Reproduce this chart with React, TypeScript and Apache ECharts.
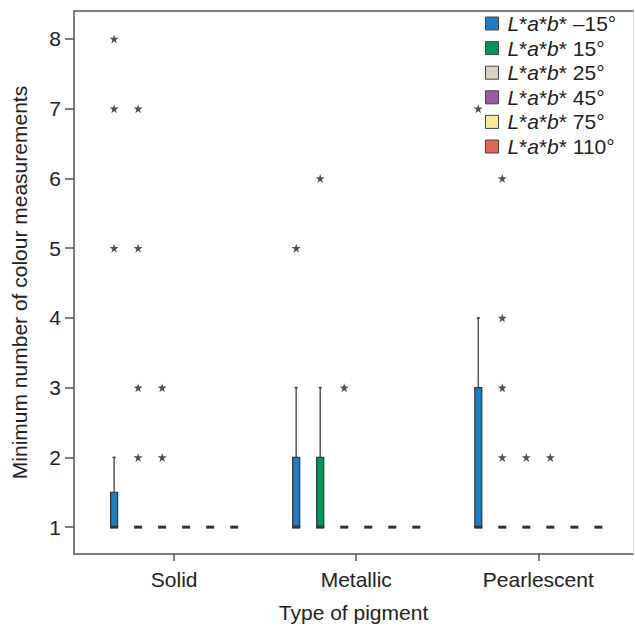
import React, { useEffect, useRef } from "react";
import * as echarts from "echarts";

// ---- data ----
const categories = ["Solid", "Metallic", "Pearlescent"];
const seriesNames = [
  "L*a*b* –15°",
  "L*a*b* 15°",
  "L*a*b* 25°",
  "L*a*b* 45°",
  "L*a*b* 75°",
  "L*a*b* 110°",
];
const seriesColors = ["#1f7cc0", "#00985a", "#d9d1c1", "#9a5aa0", "#f6e9a0", "#e0655a"];
const yTicks = [1, 2, 3, 4, 5, 6, 7, 8];

// box stats per series, per category: [min, q1, median, q3, max]
const boxM15 = [[1, 1, 1, 1.5, 2], [1, 1, 1, 2, 3], [1, 1, 1, 3, 4]];
const box15 = [[1, 1, 1, 1, 1], [1, 1, 1, 2, 3], [1, 1, 1, 1, 1]];
const box25 = [[1, 1, 1, 1, 1], [1, 1, 1, 1, 1], [1, 1, 1, 1, 1]];
const box45 = [[1, 1, 1, 1, 1], [1, 1, 1, 1, 1], [1, 1, 1, 1, 1]];
const box75 = [[1, 1, 1, 1, 1], [1, 1, 1, 1, 1], [1, 1, 1, 1, 1]];
const box110 = [[1, 1, 1, 1, 1], [1, 1, 1, 1, 1], [1, 1, 1, 1, 1]];

// outliers per series, per category
const outM15 = [[5, 7, 8], [5], [7]];
const out15 = [[2, 3, 5, 7], [6], [2, 3, 4, 6]];
const out25 = [[2, 3], [3], [2]];
const out45 = [[], [], [2]];
const out75 = [[], [], []];
const out110 = [[], [], []];

const boxes = [boxM15, box15, box25, box45, box75, box110];
const outliers = [outM15, out15, out25, out45, out75, out110];

const FONT = "'Liberation Sans', Arial, Helvetica, sans-serif";
const TEXT = "#222";
const AXIS = "#555";
const STEP = 0.1319; // offset between series within a category (axis units)

const STAR =
  "path://M50,0 L61.8,36.2 L100,36.2 L69.1,58.8 L80.9,95.1 L50,72.7 L19.1,95.1 L30.9,58.8 L0,36.2 L38.2,36.2 Z";

export default function App() {
  const ref = useRef<HTMLDivElement>(null);
  useEffect(() => {
    document.body.style.margin = "0";
    const chart = echarts.init(ref.current!, null, { renderer: "svg" });

    const offset = (k: number) => (k - (seriesNames.length - 1) / 2) * STEP;

    const boxSeries = seriesNames.map((name, k) => ({
      name,
      type: "custom",
      itemStyle: { color: seriesColors[k] },
      data: boxes[k].map((b, c) => [c + 1 + offset(k), ...b]),
      renderItem: (params: any, api: any) => {
        const x = api.value(0);
        const mn = api.value(1);
        const q1 = api.value(2);
        const md = api.value(3);
        const q3 = api.value(4);
        const mx = api.value(5);
        const pQ1 = api.coord([x, q1]);
        const pQ3 = api.coord([x, q3]);
        const pMd = api.coord([x, md]);
        const pMx = api.coord([x, mx]);
        const pMn = api.coord([x, mn]);
        const w = 7;
        const cx = pQ1[0];
        const children: any[] = [];
        if (mx > q3) {
          children.push({
            type: "line",
            shape: { x1: cx, y1: pQ3[1], x2: cx, y2: pMx[1] },
            style: { stroke: "#555", lineWidth: 1.5 },
          });
          children.push({
            type: "line",
            shape: { x1: cx - 1.5, y1: pMx[1], x2: cx + 1.5, y2: pMx[1] },
            style: { stroke: "#333", lineWidth: 1.5 },
          });
        }
        if (mn < q1) {
          children.push({
            type: "line",
            shape: { x1: cx, y1: pQ1[1], x2: cx, y2: pMn[1] },
            style: { stroke: "#555", lineWidth: 1.5 },
          });
        }
        if (q3 > q1) {
          children.push({
            type: "rect",
            shape: { x: cx - w / 2, y: pQ3[1], width: w, height: pQ1[1] - pQ3[1] },
            style: { fill: api.visual("color"), stroke: "#333", lineWidth: 1.2 },
          });
        }
        children.push({
          type: "line",
          shape: { x1: cx - w / 2 - 0.5, y1: pMd[1], x2: cx + w / 2 + 0.5, y2: pMd[1] },
          style: { stroke: "#333", lineWidth: 3 },
        });
        return { type: "group", children };
      },
      z: 2,
    }));

    const outlierData: number[][] = [];
    outliers.forEach((perCat, k) =>
      perCat.forEach((vals, c) => vals.forEach((v) => outlierData.push([c + 1 + offset(k), v])))
    );

    const option: any = {
      animation: false,
      backgroundColor: "#fff",
      textStyle: { fontFamily: FONT },
      grid: { left: 74, right: 2, top: 11, bottom: 72 },
      legend: {
        orient: "vertical",
        left: 485,
        top: 13,
        padding: 0,
        data: seriesNames,
        icon: "rect",
        itemWidth: 13,
        itemHeight: 13,
        itemGap: 3.6,
        itemStyle: { borderColor: "#444", borderWidth: 1 },
        textStyle: {
          fontFamily: FONT,
          fontSize: 21,
          color: TEXT,
          lineHeight: 21,
          rich: {
            sp: { fontFamily: FONT, fontSize: 14, lineHeight: 21 },
            i: { fontStyle: "italic", fontFamily: FONT, fontSize: 21, color: TEXT, lineHeight: 21 },
          },
        },
        formatter: (name: string) => "{sp| }{i|L}*{i|a}*{i|b}*" + name.replace("L*a*b*", ""),
      },
      xAxis: [
        {
          type: "value",
          min: 0.45,
          max: 3.52,
          name: "Type of pigment",
          nameLocation: "middle",
          nameGap: 48,
          nameTextStyle: { fontSize: 21, color: TEXT, fontFamily: FONT },
          axisLine: { show: true, lineStyle: { color: AXIS, width: 1.5 } },
          axisTick: {
            show: true,
            length: 7,
            lineStyle: { color: AXIS, width: 1.5 },
            customValues: [1, 2, 3],
          },
          axisLabel: {
            customValues: [1, 2, 3],
            formatter: (v: number) => categories[Math.round(v) - 1] ?? "",
            fontSize: 21,
            color: TEXT,
            margin: 15,
            fontFamily: FONT,
          },
          splitLine: { show: false },
        },
        {
          type: "value",
          position: "top",
          min: 0.45,
          max: 3.52,
          axisLine: { show: true, onZero: false, lineStyle: { color: AXIS, width: 1.5 } },
          axisTick: { show: false },
          axisLabel: { show: false },
          splitLine: { show: false },
        },
      ],
      yAxis: [
        {
          type: "value",
          min: 0.615,
          max: 8.4,
          name: "Minimum number of colour measurements",
          nameLocation: "middle",
          nameGap: 44,
          nameTextStyle: { fontSize: 21, color: TEXT, fontFamily: FONT },
          axisLine: { show: true, lineStyle: { color: AXIS, width: 1.5 } },
          axisTick: {
            show: true,
            length: 9,
            lineStyle: { color: AXIS, width: 1.5 },
            customValues: yTicks,
          },
          axisLabel: {
            customValues: yTicks,
            fontSize: 21,
            color: TEXT,
            margin: 13,
            fontFamily: FONT,
          },
          splitLine: { show: false },
        },
        {
          type: "value",
          position: "right",
          min: 0.615,
          max: 8.4,
          axisLine: { show: true, onZero: false, lineStyle: { color: "#ddd", width: 1 } },
          axisTick: { show: false },
          axisLabel: { show: false },
          splitLine: { show: false },
        },
      ],
      series: [
        ...boxSeries,
        {
          name: "outliers",
          type: "scatter",
          symbol: STAR,
          symbolSize: 9,
          itemStyle: { color: "#222" },
          data: outlierData,
          z: 3,
        },
      ],
    };
    chart.setOption(option);
    return () => chart.dispose();
  }, []);
  return <div ref={ref} style={{ width: 635, height: 628 }} />;
}
